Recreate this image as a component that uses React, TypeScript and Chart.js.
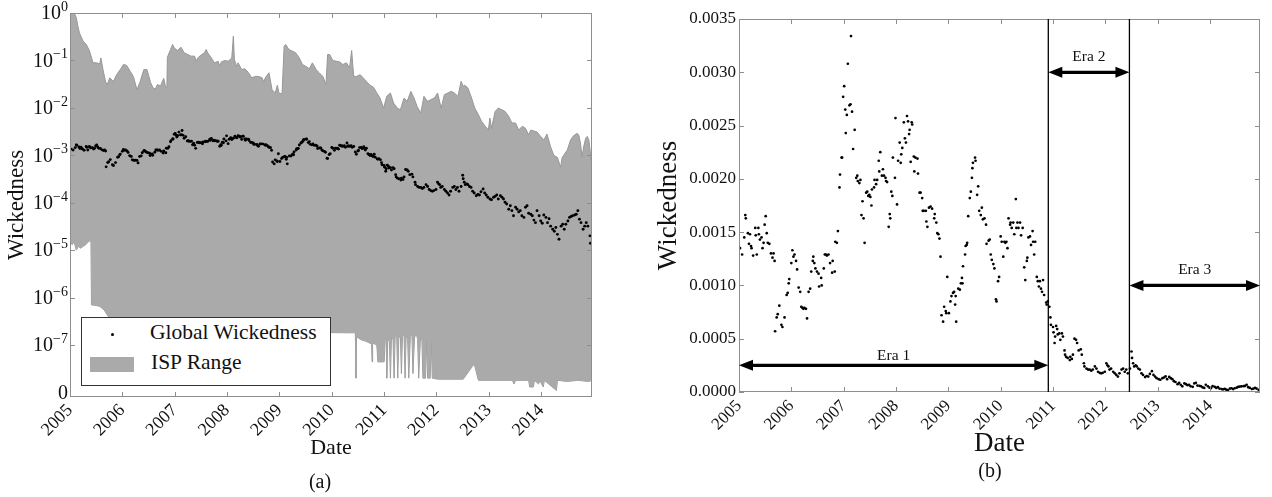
import React, { useEffect, useRef } from 'react';
import { Chart, registerables } from 'chart.js';

Chart.register(...registerables);

const SERIF = '"Liberation Serif", "Times New Roman", Times, serif';

// ---------- axes / annotation data ----------
const yearTicks = [2005, 2006, 2007, 2008, 2009, 2010, 2011, 2012, 2013, 2014];
const panelAXRange = [2005, 2014.97];
const panelBXRange = [2005, 2014.955];
const decadeExponents = [0, -1, -2, -3, -4, -5, -6, -7];
const panelAYRange = [8e-9, 1];
const panelBYTicks = [0, 0.0005, 0.001, 0.0015, 0.002, 0.0025, 0.003, 0.0035];
const eraBounds = [2005, 2010.91, 2012.46, 2014.955];
const eraArrowLevels = [0.00025, 0.003, 0.001];
const eraLabels = ['Era 1', 'Era 2', 'Era 3'];

// ---------- Global wickedness: [decimal year, wickedness x 1e-4] ----------
const globalWickedness: [number, number][] = [
  [2005.02, 13.5], [2005.06, 12.9], [2005.10, 14.5], [2005.12, 16.6], [2005.13, 16.3], [2005.17, 14.9], [2005.19, 13.9], [2005.21, 14.8], [2005.23, 13.7], [2005.24, 13.5],
  [2005.27, 12.8], [2005.31, 15.4], [2005.32, 14.7], [2005.34, 12.9], [2005.37, 15.4], [2005.38, 14.8], [2005.40, 14.3], [2005.43, 14.5], [2005.45, 13.5], [2005.47, 14.0],
  [2005.49, 15.7], [2005.51, 16.5], [2005.53, 14.9], [2005.55, 14.0], [2005.58, 13.9], [2005.61, 13.0], [2005.64, 12.6], [2005.66, 13.0], [2005.68, 12.3],
  [2005.69, 5.7], [2005.72, 7.0], [2005.74, 7.3], [2005.77, 8.1], [2005.81, 6.3], [2005.83, 6.1], [2005.87, 7.0], [2005.91, 9.1], [2005.93, 9.3], [2005.95, 10.2], [2005.96, 10.6],
  [2006.00, 12.1], [2006.02, 13.3], [2006.04, 12.7], [2006.06, 12.9], [2006.09, 12.3], [2006.11, 11.5], [2006.14, 9.8], [2006.17, 9.4], [2006.19, 8.0], [2006.21, 7.9],
  [2006.23, 7.8], [2006.25, 7.9], [2006.28, 7.8], [2006.30, 6.9], [2006.33, 9.4], [2006.36, 9.7], [2006.38, 11.3], [2006.41, 12.3], [2006.42, 12.7], [2006.44, 12.1],
  [2006.46, 11.6], [2006.49, 11.3], [2006.52, 11.1], [2006.53, 9.9], [2006.57, 10.7], [2006.58, 10.0], [2006.62, 11.6], [2006.64, 12.9], [2006.66, 12.9], [2006.68, 12.8],
  [2006.71, 12.9], [2006.74, 12.1], [2006.78, 11.2], [2006.79, 12.3], [2006.83, 11.3], [2006.84, 14.1], [2006.87, 14.0], [2006.89, 15.1],
  [2006.92, 19.2], [2006.93, 20.4], [2006.96, 22.0], [2006.97, 22.0], [2006.99, 27.7], [2007.01, 28.7], [2007.03, 26.5], [2007.04, 24.3], [2007.06, 26.0], [2007.08, 30.8],
  [2007.11, 26.9], [2007.13, 27.0], [2007.14, 33.4], [2007.16, 26.3], [2007.18, 22.8], [2007.21, 24.6], [2007.24, 20.1], [2007.26, 20.3], [2007.27, 19.8], [2007.30, 19.6],
  [2007.32, 19.9], [2007.34, 16.6], [2007.36, 17.9], [2007.38, 16.3], [2007.40, 14.0], [2007.43, 18.7], [2007.45, 18.8], [2007.47, 18.4], [2007.49, 18.5], [2007.51, 18.3],
  [2007.53, 17.5], [2007.54, 19.0], [2007.58, 19.2], [2007.59, 19.9], [2007.62, 19.5], [2007.64, 19.9], [2007.67, 21.7], [2007.68, 20.7], [2007.70, 22.5], [2007.73, 20.3],
  [2007.75, 20.9], [2007.77, 20.3], [2007.80, 20.1], [2007.81, 19.8], [2007.83, 19.7], [2007.86, 15.5], [2007.88, 16.7], [2007.89, 16.3], [2007.91, 18.8], [2007.93, 18.4],
  [2007.94, 22.0], [2007.98, 20.1], [2007.99, 25.7], [2008.02, 17.6], [2008.04, 21.7], [2008.07, 23.4], [2008.09, 21.5], [2008.10, 22.3], [2008.12, 22.9], [2008.15, 25.3],
  [2008.17, 23.8], [2008.19, 23.4], [2008.21, 25.9], [2008.23, 25.4], [2008.25, 24.2], [2008.26, 24.6], [2008.28, 21.6], [2008.30, 25.3], [2008.31, 25.1], [2008.34, 22.1],
  [2008.35, 20.7], [2008.37, 22.0], [2008.41, 21.9], [2008.42, 20.5], [2008.45, 18.7], [2008.47, 18.7], [2008.50, 18.2], [2008.51, 17.0], [2008.53, 17.0], [2008.57, 17.0],
  [2008.58, 16.0], [2008.60, 15.5], [2008.63, 17.3], [2008.66, 17.4], [2008.69, 17.2], [2008.73, 16.3], [2008.74, 16.7], [2008.77, 15.9], [2008.79, 14.9], [2008.81, 14.8],
  [2008.83, 14.4], [2008.85, 12.7],
  [2008.87, 7.2], [2008.90, 6.6], [2008.92, 8.0], [2008.95, 7.6], [2008.96, 7.4], [2008.98, 10.8], [2009.01, 7.4], [2009.04, 8.5], [2009.06, 9.0], [2009.09, 9.3],
  [2009.11, 9.4], [2009.13, 8.2], [2009.14, 9.0], [2009.15, 6.6], [2009.19, 9.7], [2009.22, 9.6], [2009.24, 10.2], [2009.26, 10.7], [2009.27, 10.2], [2009.28, 11.8],
  [2009.32, 12.9], [2009.33, 13.7], [2009.35, 13.8], [2009.36, 14.0], [2009.38, 16.5], [2009.41, 18.2], [2009.43, 18.8], [2009.45, 20.1], [2009.46, 21.0], [2009.47, 21.5],
  [2009.51, 22.0], [2009.52, 21.7], [2009.55, 18.5], [2009.57, 19.3], [2009.59, 17.0], [2009.62, 16.6], [2009.64, 17.3], [2009.66, 16.2], [2009.69, 16.3], [2009.72, 15.7],
  [2009.73, 13.9], [2009.77, 14.2], [2009.79, 14.3], [2009.81, 12.9], [2009.83, 12.4], [2009.86, 12.0], [2009.88, 11.6], [2009.91, 8.7], [2009.92, 8.5], [2009.95, 10.4],
  [2009.97, 10.8], [2010.00, 14.6], [2010.02, 14.1], [2010.05, 12.7], [2010.07, 14.1], [2010.09, 14.0], [2010.11, 14.1], [2010.13, 13.5], [2010.15, 16.3], [2010.18, 15.7],
  [2010.19, 15.9], [2010.21, 15.4], [2010.24, 15.9], [2010.26, 14.8], [2010.29, 18.1], [2010.30, 15.4], [2010.32, 15.9], [2010.34, 15.4], [2010.37, 15.9], [2010.39, 14.7],
  [2010.42, 15.4], [2010.45, 11.7], [2010.47, 10.5], [2010.50, 12.3], [2010.51, 12.6], [2010.53, 14.5], [2010.56, 14.6], [2010.58, 13.8], [2010.61, 15.1], [2010.62, 14.1],
  [2010.64, 12.9], [2010.66, 14.1], [2010.69, 10.8], [2010.71, 10.4], [2010.73, 9.9], [2010.75, 10.4], [2010.77, 9.7], [2010.79, 9.4], [2010.81, 10.5], [2010.83, 9.1],
  [2010.87, 8.4], [2010.88, 8.2], [2010.90, 8.5], [2010.93, 8.0],
  [2010.95, 7.0], [2010.96, 6.3], [2011.00, 6.1], [2011.01, 5.6], [2011.03, 4.6], [2011.04, 5.2], [2011.06, 6.2], [2011.08, 5.9], [2011.09, 5.4], [2011.12, 5.5],
  [2011.14, 4.9], [2011.17, 5.5], [2011.19, 5.2], [2011.22, 3.9], [2011.23, 3.5], [2011.25, 3.3], [2011.28, 3.2], [2011.32, 3.0], [2011.33, 3.3], [2011.36, 3.1],
  [2011.38, 3.5], [2011.41, 5.0], [2011.44, 4.9], [2011.46, 4.6], [2011.49, 3.9], [2011.53, 4.0], [2011.55, 3.5], [2011.59, 2.7], [2011.60, 2.4], [2011.64, 2.2],
  [2011.67, 2.1], [2011.70, 2.1], [2011.73, 2.0], [2011.76, 2.1], [2011.80, 2.4], [2011.83, 2.2], [2011.86, 1.9], [2011.89, 1.8], [2011.92, 1.75], [2011.95, 1.8],
  [2011.99, 1.9], [2012.02, 2.7], [2012.04, 2.5], [2012.06, 2.4], [2012.08, 2.1], [2012.11, 2.2], [2012.15, 1.9], [2012.18, 1.75], [2012.21, 1.6], [2012.24, 1.45],
  [2012.27, 1.75], [2012.31, 2.1], [2012.34, 2.2], [2012.37, 1.9], [2012.40, 2.1], [2012.43, 1.75], [2012.47, 2.2],
  [2012.50, 3.8], [2012.51, 3.2], [2012.53, 2.7], [2012.55, 2.4], [2012.58, 2.5], [2012.60, 2.4], [2012.63, 2.2], [2012.66, 2.1], [2012.69, 1.75], [2012.72, 1.6],
  [2012.76, 1.4], [2012.79, 1.5], [2012.82, 1.45], [2012.85, 1.7], [2012.89, 1.95], [2012.92, 1.6], [2012.95, 1.45], [2012.98, 1.3], [2013.02, 1.2], [2013.05, 1.15],
  [2013.09, 1.30], [2013.12, 1.36], [2013.15, 1.46], [2013.18, 1.20], [2013.22, 1.41], [2013.25, 1.30], [2013.28, 1.20], [2013.31, 1.02], [2013.34, 0.94], [2013.38, 0.73],
  [2013.41, 0.86], [2013.44, 0.68], [2013.47, 0.53], [2013.51, 0.80], [2013.54, 0.73], [2013.57, 0.64], [2013.60, 0.68], [2013.63, 0.53], [2013.67, 0.49], [2013.70, 0.80],
  [2013.73, 0.86], [2013.76, 0.60], [2013.80, 0.57], [2013.83, 0.53], [2013.86, 0.43], [2013.89, 0.38], [2013.92, 0.68], [2013.96, 0.53], [2013.99, 0.41], [2014.02, 0.37],
  [2014.05, 0.55], [2014.09, 0.49], [2014.12, 0.38], [2014.15, 0.46], [2014.18, 0.32], [2014.22, 0.275], [2014.25, 0.25], [2014.28, 0.30], [2014.31, 0.215], [2014.34, 0.17],
  [2014.38, 0.32], [2014.41, 0.35], [2014.44, 0.275], [2014.47, 0.35], [2014.51, 0.41], [2014.54, 0.49], [2014.57, 0.51], [2014.60, 0.53], [2014.64, 0.55], [2014.67, 0.57],
  [2014.70, 0.68], [2014.73, 0.45], [2014.76, 0.38], [2014.80, 0.275], [2014.83, 0.32], [2014.86, 0.38], [2014.89, 0.32], [2014.93, 0.20], [2014.94, 0.14],
];

// ---------- ISP range, upper and lower bounds: [decimal year, wickedness] ----------
const ispUpper: [number, number][] = [
  [2005.00, 1.0], [2005.08, 1.0], [2005.12, 0.80], [2005.15, 0.53], [2005.18, 0.38], [2005.25, 0.255], [2005.31, 0.217], [2005.37, 0.162], [2005.44, 0.089], [2005.50, 0.089],
  [2005.57, 0.085], [2005.59, 0.113], [2005.63, 0.064], [2005.68, 0.035], [2005.71, 0.031], [2005.76, 0.043], [2005.83, 0.036], [2005.89, 0.050], [2005.96, 0.064], [2006.02, 0.082],
  [2006.08, 0.079], [2006.15, 0.059], [2006.21, 0.046], [2006.28, 0.024], [2006.34, 0.036], [2006.41, 0.064], [2006.47, 0.064], [2006.54, 0.034], [2006.59, 0.026], [2006.63, 0.025],
  [2006.67, 0.031], [2006.73, 0.029], [2006.79, 0.042], [2006.83, 0.026], [2006.85, 0.026], [2006.86, 0.117], [2006.92, 0.17], [2006.96, 0.217], [2006.99, 0.185], [2007.05, 0.162],
  [2007.12, 0.19], [2007.18, 0.145], [2007.25, 0.133], [2007.31, 0.123], [2007.38, 0.123], [2007.41, 0.096], [2007.44, 0.113], [2007.50, 0.129], [2007.57, 0.145], [2007.60, 0.17],
  [2007.63, 0.145], [2007.70, 0.113], [2007.76, 0.089], [2007.83, 0.096], [2007.86, 0.0755], [2007.89, 0.093], [2007.96, 0.0995], [2008.02, 0.096], [2008.09, 0.113], [2008.12, 0.326],
  [2008.14, 0.104], [2008.18, 0.0755], [2008.21, 0.089], [2008.28, 0.064], [2008.34, 0.067], [2008.41, 0.055], [2008.47, 0.043], [2008.54, 0.046], [2008.60, 0.046], [2008.67, 0.043],
  [2008.70, 0.035], [2008.73, 0.043], [2008.80, 0.055], [2008.86, 0.024], [2008.92, 0.0206], [2008.96, 0.030], [2008.99, 0.0206], [2009.05, 0.0196], [2009.09, 0.2], [2009.12, 0.217],
  [2009.18, 0.17], [2009.25, 0.157], [2009.31, 0.145], [2009.38, 0.113], [2009.44, 0.082], [2009.50, 0.0755], [2009.57, 0.067], [2009.63, 0.089], [2009.70, 0.064], [2009.76, 0.055],
  [2009.83, 0.046], [2009.89, 0.031], [2009.92, 0.133], [2009.96, 0.133], [2010.02, 0.0995], [2010.09, 0.096], [2010.15, 0.093], [2010.21, 0.082], [2010.28, 0.089], [2010.34, 0.07],
  [2010.38, 0.162], [2010.40, 0.082], [2010.42, 0.046], [2010.47, 0.046], [2010.54, 0.05], [2010.60, 0.043], [2010.67, 0.035], [2010.73, 0.030], [2010.80, 0.027], [2010.86, 0.0206],
  [2010.92, 0.0161], [2010.99, 0.0099], [2011.05, 0.0175], [2011.12, 0.0206], [2011.18, 0.0126], [2011.25, 0.0099], [2011.31, 0.0091], [2011.38, 0.0161], [2011.44, 0.0137], [2011.51, 0.0223],
  [2011.57, 0.0161], [2011.63, 0.0107], [2011.70, 0.0078], [2011.76, 0.0175], [2011.83, 0.0137], [2011.89, 0.0149], [2011.96, 0.0161], [2012.02, 0.0206], [2012.09, 0.0099], [2012.15, 0.019],
  [2012.22, 0.0206], [2012.28, 0.0223], [2012.34, 0.0206], [2012.41, 0.0175], [2012.47, 0.0363], [2012.51, 0.0285], [2012.54, 0.030], [2012.60, 0.0262], [2012.67, 0.0161], [2012.73, 0.0099],
  [2012.80, 0.0072], [2012.86, 0.0052], [2012.93, 0.0041], [2012.99, 0.0034], [2013.02, 0.0061], [2013.05, 0.0037], [2013.12, 0.0084], [2013.18, 0.0099], [2013.25, 0.0091], [2013.31, 0.0084],
  [2013.38, 0.0066], [2013.44, 0.0048], [2013.51, 0.0048], [2013.57, 0.0034], [2013.64, 0.0041], [2013.70, 0.0037], [2013.76, 0.0027], [2013.80, 0.0034], [2013.92, 0.0031], [2013.99, 0.0025],
  [2014.05, 0.0021], [2014.11, 0.0028], [2014.18, 0.0015], [2014.24, 0.0010], [2014.31, 0.0009], [2014.37, 0.00056], [2014.40, 0.0009], [2014.43, 0.001], [2014.50, 0.0013], [2014.56, 0.0021],
  [2014.62, 0.0026], [2014.69, 0.0029], [2014.72, 0.0026], [2014.75, 0.0018], [2014.78, 0.0009], [2014.81, 0.0015], [2014.85, 0.0023], [2014.88, 0.0025], [2014.91, 0.0021], [2014.94, 0.0011],
  [2014.97, 0.00056],
];

const ispLower: [number, number][] = [
  [2005.00, 1.7e-5], [2005.04, 1.3e-5], [2005.08, 1.5e-5], [2005.12, 1.0e-5], [2005.16, 1.2e-5], [2005.20, 1.1e-5], [2005.25, 1.2e-5], [2005.30, 1.3e-5], [2005.35, 1.5e-5], [2005.40, 1.6e-5],
  [2005.41, 7e-7], [2005.50, 6.8e-7], [2005.57, 6.5e-7], [2005.65, 5.5e-7], [2005.73, 4e-7], [2005.80, 2.6e-7], [2005.90, 2.1e-7], [2006.20, 2e-7], [2010.45, 1.8e-7], [2010.46, 2e-8],
  [2010.47, 1.5e-7], [2010.55, 1.3e-7], [2010.65, 1.2e-7], [2010.76, 1.05e-7], [2010.77, 4.4e-8], [2010.78, 1.1e-7], [2010.86, 1.0e-7], [2010.88, 4.4e-8], [2011.00, 4.4e-8], [2011.02, 1.3e-7],
  [2011.04, 1.4e-7], [2011.05, 2e-8], [2011.07, 1.3e-7], [2011.10, 1.2e-7], [2011.12, 2e-8], [2011.14, 1.5e-7], [2011.17, 1.3e-7], [2011.19, 2e-8], [2011.21, 1.5e-7], [2011.24, 1.6e-7],
  [2011.26, 2e-8], [2011.28, 1.4e-7], [2011.31, 1.6e-7], [2011.33, 2.5e-8], [2011.35, 1.5e-7], [2011.38, 1.7e-7], [2011.40, 2e-8], [2011.42, 1.6e-7], [2011.45, 1.3e-7], [2011.47, 2e-8],
  [2011.50, 1.5e-7], [2011.53, 1.7e-7], [2011.55, 2.5e-8], [2011.58, 1.4e-7], [2011.61, 1.8e-7], [2011.64, 1.3e-7], [2011.66, 2e-8], [2011.69, 1.2e-7], [2011.72, 1.5e-7], [2011.74, 2e-8],
  [2011.79, 2e-8], [2011.81, 1.4e-7], [2011.83, 2e-8], [2011.88, 2e-8], [2011.90, 1.3e-7], [2011.92, 2e-8], [2012.02, 1.9e-8], [2012.51, 1.9e-8], [2012.72, 4e-8], [2012.80, 1.8e-8],
  [2013.45, 1.8e-8], [2013.48, 1.5e-8], [2013.51, 1.8e-8], [2013.76, 1.8e-8], [2013.78, 1.3e-8], [2013.85, 1.3e-8], [2013.87, 1.8e-8], [2013.95, 1.5e-8], [2013.97, 1.8e-8], [2014.04, 1.3e-8],
  [2014.06, 1.8e-8], [2014.29, 1.1e-8], [2014.31, 1.8e-8], [2014.50, 1.7e-8], [2014.70, 1.8e-8], [2014.90, 1.7e-8], [2014.98, 1.8e-8],
];

// ---------- helpers ----------
const WICKEDNESS_UNIT = 1e-4;
const dotPoints = globalWickedness.map(([x, v]) => ({ x, y: v * WICKEDNESS_UNIT }));
const toXY = (arr: [number, number][]) => arr.map(([x, y]) => ({ x, y }));

const FRAME = '#8e8e8e';
const TEXT = '#111';

function drawFrame(chart: any, xVals: number[], yVals: number[], len: number) {
  const { ctx, chartArea: a, scales } = chart;
  ctx.save();
  ctx.strokeStyle = FRAME;
  ctx.lineWidth = 1;
  ctx.strokeRect(a.left + 0.5, a.top + 0.5, a.right - a.left - 1, a.bottom - a.top - 1);
  ctx.beginPath();
  for (const v of xVals) {
    const x = Math.round(scales.x.getPixelForValue(v)) + 0.5;
    ctx.moveTo(x, a.bottom);
    ctx.lineTo(x, a.bottom - len);
    ctx.moveTo(x, a.top);
    ctx.lineTo(x, a.top + len);
  }
  for (const v of yVals) {
    const y = Math.round(scales.y.getPixelForValue(v)) + 0.5;
    ctx.moveTo(a.left, y);
    ctx.lineTo(a.left + len, y);
    ctx.moveTo(a.right, y);
    ctx.lineTo(a.right - len, y);
  }
  ctx.stroke();
  ctx.restore();
}

function drawDoubleArrow(ctx: CanvasRenderingContext2D, x1: number, x2: number, y: number) {
  const head = 14;
  const half = 5.5;
  ctx.save();
  ctx.strokeStyle = '#000';
  ctx.fillStyle = '#000';
  ctx.lineWidth = 3.2;
  ctx.beginPath();
  ctx.moveTo(x1 + head - 2, y);
  ctx.lineTo(x2 - head + 2, y);
  ctx.stroke();
  ctx.beginPath();
  ctx.moveTo(x1, y);
  ctx.lineTo(x1 + head, y - half);
  ctx.lineTo(x1 + head, y + half);
  ctx.closePath();
  ctx.fill();
  ctx.beginPath();
  ctx.moveTo(x2, y);
  ctx.lineTo(x2 - head, y - half);
  ctx.lineTo(x2 - head, y + half);
  ctx.closePath();
  ctx.fill();
  ctx.restore();
}

const yearTickCb = (v: any) => String(Math.round(Number(v)));

export default function App() {
  const refA = useRef<HTMLCanvasElement>(null);
  const refB = useRef<HTMLCanvasElement>(null);

  useEffect(() => {
    const decadeValues = decadeExponents.map((e) => Math.pow(10, e));

    const panelAPlugin = {
      id: 'panelA',
      afterDatasetsDraw(chart: any) {
        drawFrame(chart, yearTicks, decadeValues, 5);
      },
      afterDraw(chart: any) {
        const { ctx, scales } = chart;
        ctx.save();
        ctx.fillStyle = TEXT;
        const rightX = 68;
        for (const e of decadeExponents) {
          const y = scales.y.getPixelForValue(Math.pow(10, e));
          const expText = e === 0 ? '0' : '\u2212' + String(-e);
          ctx.font = `14px ${SERIF}`;
          const ew = ctx.measureText(expText).width;
          ctx.textAlign = 'left';
          ctx.textBaseline = 'alphabetic';
          ctx.fillText(expText, rightX - ew, y - 2);
          ctx.font = `20px ${SERIF}`;
          ctx.textAlign = 'right';
          ctx.textBaseline = 'middle';
          ctx.fillText('10', rightX - ew, y + 1);
        }
        ctx.font = `20px ${SERIF}`;
        ctx.textAlign = 'right';
        ctx.textBaseline = 'middle';
        ctx.fillText('0', rightX, scales.y.getPixelForValue(panelAYRange[0]) - 3);
        ctx.textAlign = 'center';
        ctx.font = `20px ${SERIF}`;
        ctx.fillText('(a)', 320, 483);
        ctx.restore();
      },
    };

    const chartA = new Chart(refA.current as HTMLCanvasElement, {
      type: 'line',
      data: {
        datasets: [
          {
            type: 'scatter',
            label: 'Global Wickedness',
            data: dotPoints,
            pointRadius: 1.45,
            pointBackgroundColor: '#000',
            pointBorderWidth: 0,
            showLine: false,
          } as any,
          {
            label: 'ISP Range upper',
            data: toXY(ispUpper),
            borderColor: '#979797',
            borderWidth: 1,
            pointRadius: 0,
            backgroundColor: '#aaaaaa',
            fill: '+1',
            tension: 0,
          },
          {
            label: 'ISP Range lower',
            data: toXY(ispLower),
            borderColor: '#979797',
            borderWidth: 1,
            pointRadius: 0,
            fill: false,
            tension: 0,
          },
        ],
      },
      options: {
        animation: false,
        responsive: false,
        devicePixelRatio: 1,
        events: [],
        layout: { padding: { left: 0, right: 44, top: 13, bottom: 0 } },
        plugins: { legend: { display: false }, tooltip: { enabled: false } },
        scales: {
          x: {
            type: 'linear',
            min: panelAXRange[0],
            max: panelAXRange[1],
            bounds: 'data',
            afterBuildTicks: (s: any) => {
              s.ticks = yearTicks.map((v) => ({ value: v }));
            },
            afterFit: (s: any) => {
              s.height = 100;
            },
            grid: { display: false, drawTicks: false },
            border: { display: false },
            ticks: {
              autoSkip: false,
              maxRotation: 45,
              minRotation: 45,
              padding: 3,
              color: TEXT,
              font: { family: SERIF, size: 18 },
              callback: yearTickCb,
            },
            title: {
              display: true,
              text: 'Date',
              color: TEXT,
              font: { family: SERIF, size: 22 },
              padding: { top: 0, bottom: 36 },
            },
          },
          y: {
            type: 'logarithmic',
            min: panelAYRange[0],
            max: panelAYRange[1],
            bounds: 'data',
            afterFit: (s: any) => {
              s.width = 70;
            },
            grid: { display: false, drawTicks: false },
            border: { display: false },
            ticks: { display: false },
            title: {
              display: true,
              text: 'Wickedness',
              color: TEXT,
              font: { family: SERIF, size: 23 },
              padding: { top: 3, bottom: 0 },
            },
          },
        },
      } as any,
      plugins: [panelAPlugin],
    });

    const panelBPlugin = {
      id: 'panelB',
      afterDatasetsDraw(chart: any) {
        const { ctx, chartArea: a, scales } = chart;
        drawFrame(chart, yearTicks, panelBYTicks, 5);
        ctx.save();
        ctx.strokeStyle = '#000';
        ctx.lineWidth = 1.3;
        ctx.beginPath();
        for (let i = 1; i < eraBounds.length - 1; i++) {
          const x = scales.x.getPixelForValue(eraBounds[i]);
          ctx.moveTo(x, a.top);
          ctx.lineTo(x, a.bottom);
        }
        ctx.stroke();
        const gaps = [5, 11, 11];
        for (let i = 0; i < eraLabels.length; i++) {
          const x1 = scales.x.getPixelForValue(eraBounds[i]);
          const x2 = scales.x.getPixelForValue(eraBounds[i + 1]);
          const y = scales.y.getPixelForValue(eraArrowLevels[i]);
          drawDoubleArrow(ctx, x1, x2, y);
          ctx.fillStyle = TEXT;
          ctx.font = `15.5px ${SERIF}`;
          ctx.textAlign = 'center';
          ctx.textBaseline = 'alphabetic';
          ctx.fillText(eraLabels[i], (x1 + x2) / 2, y - gaps[i]);
        }
        ctx.restore();
      },
      afterDraw(chart: any) {
        const { ctx } = chart;
        ctx.save();
        ctx.fillStyle = TEXT;
        ctx.font = `20px ${SERIF}`;
        ctx.textAlign = 'center';
        ctx.textBaseline = 'middle';
        ctx.fillText('(b)', 354, 472);
        ctx.restore();
      },
    };

    const chartB = new Chart(refB.current as HTMLCanvasElement, {
      type: 'scatter',
      data: {
        datasets: [
          {
            label: 'Global Wickedness',
            data: dotPoints,
            pointRadius: 1.35,
            pointBackgroundColor: '#000',
            pointBorderWidth: 0,
            showLine: false,
          },
        ],
      },
      options: {
        animation: false,
        responsive: false,
        devicePixelRatio: 1,
        events: [],
        layout: { padding: { left: 0, right: 12, top: 19, bottom: 0 } },
        plugins: { legend: { display: false }, tooltip: { enabled: false } },
        scales: {
          x: {
            type: 'linear',
            min: panelBXRange[0],
            max: panelBXRange[1],
            bounds: 'data',
            afterBuildTicks: (s: any) => {
              s.ticks = yearTicks.map((v) => ({ value: v }));
            },
            afterFit: (s: any) => {
              s.height = 105;
            },
            grid: { display: false, drawTicks: false },
            border: { display: false },
            ticks: {
              autoSkip: false,
              maxRotation: 45,
              minRotation: 45,
              padding: 4,
              color: TEXT,
              font: { family: SERIF, size: 17 },
              callback: yearTickCb,
            },
            title: {
              display: true,
              text: 'Date',
              color: TEXT,
              font: { family: SERIF, size: 27 },
              padding: { top: 0, bottom: 37 },
            },
          },
          y: {
            type: 'linear',
            min: panelBYTicks[0],
            max: panelBYTicks[panelBYTicks.length - 1],
            bounds: 'data',
            afterBuildTicks: (s: any) => {
              s.ticks = panelBYTicks.map((v) => ({ value: v }));
            },
            afterFit: (s: any) => {
              s.width = 103;
            },
            grid: { display: false, drawTicks: false },
            border: { display: false },
            ticks: {
              padding: 3,
              color: TEXT,
              font: { family: SERIF, size: 17 },
              callback: (v: any) => Number(v).toFixed(4),
            },
            title: {
              display: true,
              text: 'Wickedness',
              color: TEXT,
              font: { family: SERIF, size: 27 },
              padding: { top: 17, bottom: 0 },
            },
          },
        },
      } as any,
      plugins: [panelBPlugin],
    });

    return () => {
      chartA.destroy();
      chartB.destroy();
    };
  }, []);

  return (
    <div style={{ position: 'absolute', left: 0, top: 0, width: 1272, height: 497, background: '#fff', overflow: 'hidden' }}>
      <canvas ref={refA} width={636} height={497} style={{ position: 'absolute', left: 0, top: 0 }} />
      <canvas ref={refB} width={636} height={497} style={{ position: 'absolute', left: 636, top: 0 }} />
      <div
        style={{
          position: 'absolute',
          left: 81,
          top: 317,
          width: 250,
          height: 69,
          boxSizing: 'border-box',
          border: '1px solid #333',
          background: '#fff',
          fontFamily: SERIF,
          color: TEXT,
        }}
      >
        <div style={{ position: 'absolute', left: 29, top: 15, width: 3, height: 3, borderRadius: '50%', background: '#000' }} />
        <div style={{ position: 'absolute', left: 68, top: 2, fontSize: 21.5, lineHeight: '24px', whiteSpace: 'nowrap' }}>Global Wickedness</div>
        <div style={{ position: 'absolute', left: 8, top: 39, width: 44, height: 15, background: '#aaaaaa' }} />
        <div style={{ position: 'absolute', left: 69, top: 32, fontSize: 21.5, lineHeight: '24px', whiteSpace: 'nowrap' }}>ISP Range</div>
      </div>
    </div>
  );
}
